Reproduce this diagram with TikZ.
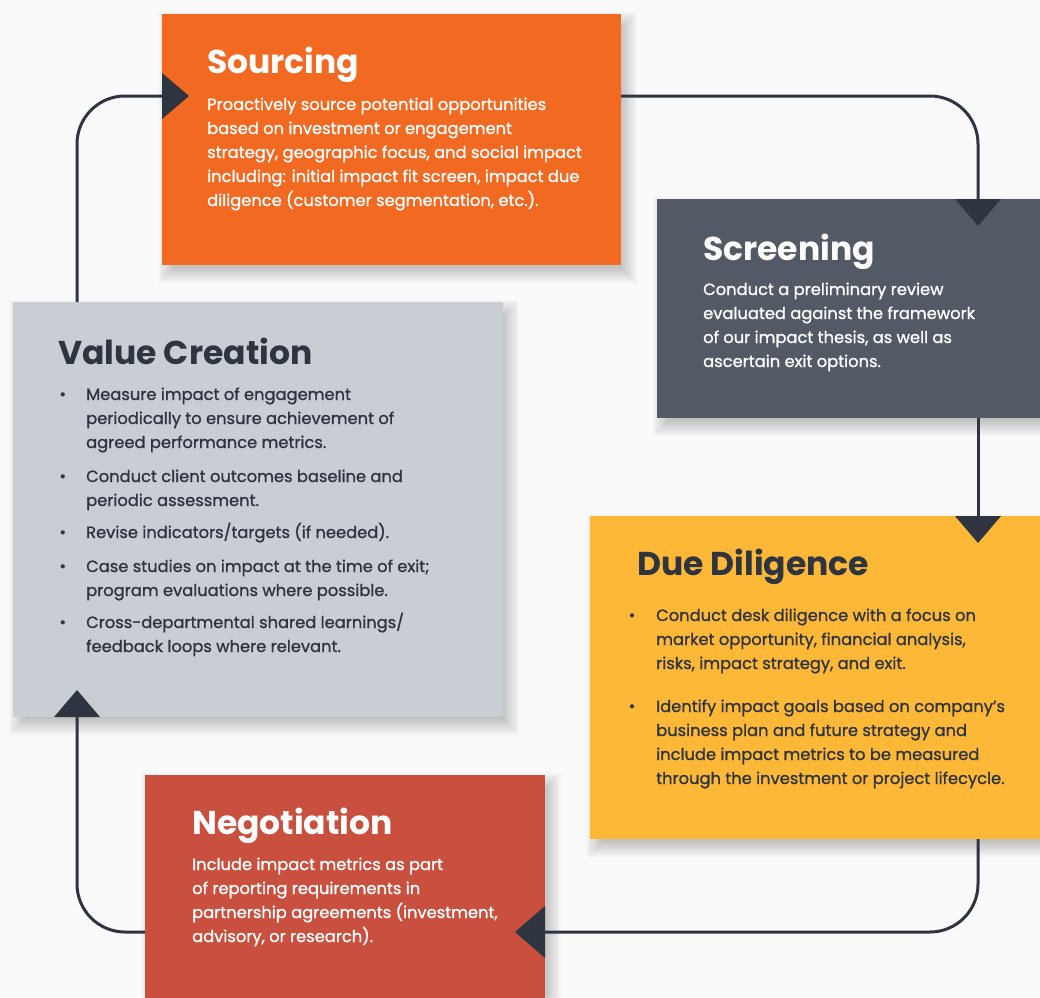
\documentclass[tikz,border=0pt]{standalone}
\usepackage{fontspec}
\setmainfont{Poppins}
\newfontfamily\bodyf[FakeBold=1.1]{Poppins}
\usetikzlibrary{calc}
\definecolor{bg}{HTML}{FAFAFB}
\definecolor{cOrange}{HTML}{F26922}
\definecolor{cSlate}{HTML}{535A66}
\definecolor{cYellow}{HTML}{FDB837}
\definecolor{cLight}{HTML}{C9CDD4}
\definecolor{cRed}{HTML}{C9503E}
\definecolor{cDark}{HTML}{2E3440}
\newcommand{\softshadow}[1]{%
  \foreach \k in {1,...,10}{%
    \fill[black, opacity=0.022]
      ($(#1.north west)+(-6+1.8*\k,-4+1.8*\k)$) rectangle
      ($(#1.south east)+(18-1.8*\k,20-1.8*\k)$);}}
\tikzset{
  box/.style={inner sep=0pt, outer sep=0pt, draw=none},
  ttl/.style={anchor=base west, inner sep=0pt, font=\fontsize{33}{40}\selectfont\bfseries},
  bodytext/.style={anchor=base west, inner sep=0pt, font=\bodyf\fontsize{16.3}{24}\selectfont},
  bul/.style={anchor=base, inner sep=0pt, font=\fontsize{17}{24}\selectfont},
  flow/.style={draw=cDark, line width=3pt, rounded corners=48pt},
  tip/.style={fill=cDark, draw=none}
}
\begin{document}
\begin{tikzpicture}[x=1pt,y=-1pt]
\fill[bg] (0,0) rectangle (1040,997);
\useasboundingbox (0,0) rectangle (1040,997);
\coordinate (T) at (0,96);
\coordinate (B) at (0,932);
\coordinate (L) at (77,0);
\coordinate (R) at (978,0);

% box geometry (invisible, for shadows)
\path (391.5,139.5) node[box, minimum width=459pt, minimum height=251pt] (src) {};
\path (851,308.5) node[box, minimum width=388pt, minimum height=219pt] (scr) {};
\path (817.5,677.5) node[box, minimum width=455pt, minimum height=323pt] (dd) {};
\path (258,509.5) node[box, minimum width=490pt, minimum height=415pt] (vc) {};
\path (345,888.5) node[box, minimum width=400pt, minimum height=227pt] (neg) {};

\softshadow{src}
\softshadow{scr}
\softshadow{dd}
\softshadow{vc}
\softshadow{neg}

% boxes
\fill[cOrange] (src.north west) rectangle (src.south east);
\fill[cSlate] (scr.north west) rectangle (scr.south east);
\fill[cYellow] (dd.north west) rectangle (dd.south east);
\fill[cLight] (vc.north west) rectangle (vc.south east);
\fill[cRed] (neg.north west) rectangle (neg.south east);

% connectors
\draw[flow] (src.east |- T) -| (scr.north -| R);
\draw[flow] (scr.south -| R) -- (dd.north -| R);
\draw[flow] (dd.south -| R) |- (neg.east |- B);
\draw[flow] (neg.west |- B) -| (vc.south -| L);
\draw[flow] (vc.north -| L) |- (src.west |- T);

% arrow tips
\fill[tip] ($(src.west |- T)+(0,-23)$) -- ++(27,23) -- ++(-27,23) -- cycle;
\fill[tip] ($(scr.north -| R)+(-23,0)$) -- ++(23,27) -- ++(23,-27) -- cycle;
\fill[tip] ($(dd.north -| R)+(-23,0)$) -- ++(23,27) -- ++(23,-27) -- cycle;
\fill[tip] ($(neg.east |- B)+(0,-26)$) -- ++(-30,26) -- ++(30,26) -- cycle;
\fill[tip] ($(vc.south -| L)+(-23,0)$) -- ++(23,-27) -- ++(23,27) -- cycle;

% Sourcing
\node[ttl, text=white] (srcT) at (207,73) {Sourcing};
\node[bodytext, text=white] (srcB) at (207,110) {\parbox[t]{400pt}{\raggedright
Proactively source potential opportunities\\
based on investment or engagement\\
strategy, geographic focus, and social impact\\
including: initial impact fit screen, impact due\\
diligence (customer segmentation, etc.).}};

% Screening
\node[ttl, text=white] (scrT) at (703,260) {Screening};
\node[bodytext, text=white] (scrB) at (703,295) {\parbox[t]{320pt}{\raggedright
Conduct a preliminary review\\
evaluated against the framework\\
of our impact thesis, as well as\\
ascertain exit options.}};

% Value Creation
\node[ttl, text=cDark] (vcT) at (58,364) {Value Creation};
\node[bul, text=cDark] (vcb1) at (63,400) {•};
\node[bodytext, text=cDark] (vci1) at (86,400) {\parbox[t]{400pt}{\raggedright
Measure impact of engagement\\
periodically to ensure achievement of\\
agreed performance metrics.}};
\node[bul, text=cDark] (vcb2) at (63,482) {•};
\node[bodytext, text=cDark] (vci2) at (86,482) {\parbox[t]{400pt}{\raggedright
Conduct client outcomes baseline and\\
periodic assessment.}};
\node[bul, text=cDark] (vcb3) at (63,538) {•};
\node[bodytext, text=cDark] (vci3) at (86,538) {Revise indicators/targets (if needed).};
\node[bul, text=cDark] (vcb4) at (63,572) {•};
\node[bodytext, text=cDark] (vci4) at (86,572) {\parbox[t]{400pt}{\raggedright
Case studies on impact at the time of exit;\\
program evaluations where possible.}};
\node[bul, text=cDark] (vcb5) at (63,628) {•};
\node[bodytext, text=cDark] (vci5) at (86,628) {\parbox[t]{400pt}{\raggedright
Cross-departmental shared learnings/\\
feedback loops where relevant.}};

% Due Diligence
\node[ttl, text=cDark] (ddT) at (637,575) {Due Diligence};
\node[bul, text=cDark] (ddb1) at (632,621) {•};
\node[bodytext, text=cDark] (ddi1) at (656,621) {\parbox[t]{400pt}{\raggedright
Conduct desk diligence with a focus on\\
market opportunity, financial analysis,\\
risks, impact strategy, and exit.}};
\node[bul, text=cDark] (ddb2) at (632,712) {•};
\node[bodytext, text=cDark] (ddi2) at (656,712) {\parbox[t]{400pt}{\raggedright
Identify impact goals based on company’s\\
business plan and future strategy and\\
include impact metrics to be measured\\
through the investment or project lifecycle.}};

% Negotiation
\node[ttl, text=white] (negT) at (192,834) {Negotiation};
\node[bodytext, text=white] (negB) at (192,870) {\parbox[t]{360pt}{\raggedright
Include impact metrics as part\\
of reporting requirements in\\
partnership agreements (investment,\\
advisory, or research).}};
\end{tikzpicture}
\end{document}
